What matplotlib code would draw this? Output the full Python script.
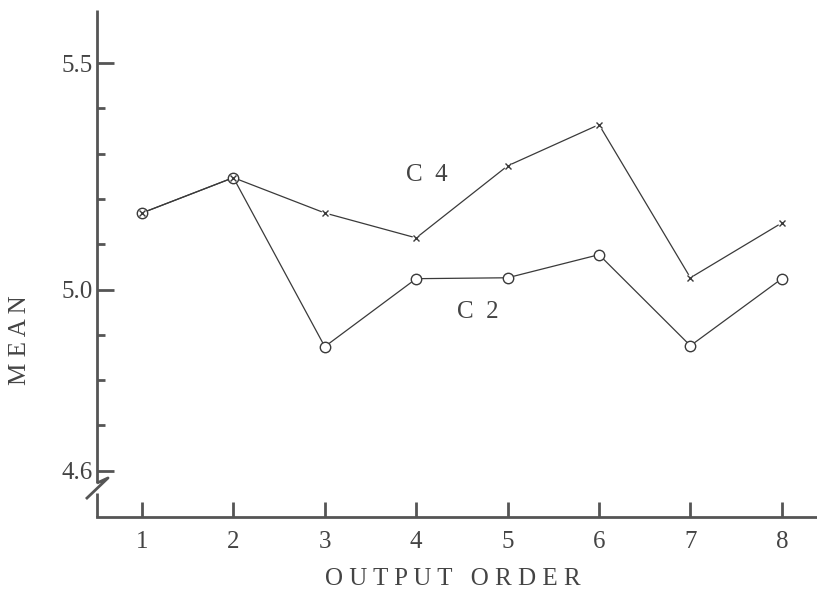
import matplotlib.pyplot as plt
import numpy as np

# Données
output_order = [1, 2, 3, 4, 5, 6, 7, 8]
mean_c4 = [5.169, 5.247, 5.169, 5.114, 5.273, 5.364, 5.026, 5.147]
mean_c2 = [5.169, 5.247, 4.874, 5.024, 5.026, 5.077, 4.876, 5.024]
y_major = [4.6, 5.0, 5.5]
y_minor = [4.7, 4.8, 4.9, 5.1, 5.2, 5.3, 5.4]

plt.rcParams['font.family'] = ['Liberation Serif', 'DejaVu Serif']
ink = '#3a3a3a'
axis_col = '#555555'
txt_col = '#444444'

fig = plt.figure(figsize=(8.17, 6), dpi=100)
ax = fig.add_axes([97/817, 1 - 517/600, 720/817, 507/600])

# Courbes
ax.plot(output_order, mean_c4, color=ink, lw=0.9, zorder=2)
ax.plot(output_order, mean_c2, color=ink, lw=0.9, zorder=2)
ax.plot(output_order, mean_c2, ls='none', marker='o', ms=7.5,
        mfc='white', mec=ink, mew=1.0, zorder=3)
ax.plot(output_order[2:], mean_c4[2:], ls='none', marker='o', ms=6,
        mfc='white', mec='none', zorder=3)
ax.plot(output_order, mean_c4, ls='none', marker='x', ms=5,
        mec=ink, mew=1.0, zorder=4)

# Étiquettes des courbes
fig.text(427/817, 1 - 175/600, 'C  4', fontsize=18, color=txt_col,
         ha='center', va='center')
fig.text(478/817, 1 - 312/600, 'C  2', fontsize=18, color=txt_col,
         ha='center', va='center')

ax.set_xlim(0.508, 8.385)
ax.set_ylim(4.498, 5.617)

# Axes
for s in ['top', 'right', 'left']:
    ax.spines[s].set_visible(False)
ax.spines['bottom'].set_linewidth(2)
ax.spines['bottom'].set_color(axis_col)

# Axe vertical avec rupture
kw = dict(transform=ax.transAxes, color=axis_col, lw=2, clip_on=False,
          solid_capstyle='butt')
ax.plot([0, 0], [0.067, 1.0], **kw)
ax.plot([0, 0], [0.0, 0.047], **kw)
ax.plot([0, 0.0153, -0.0153], [0.067, 0.077, 0.0355], **kw)

ax.set_xticks(output_order)
ax.set_xticklabels([str(i) for i in output_order])
ax.set_yticks(y_major)
ax.set_yticklabels(['4.6', '5.0', '5.5'])
ax.set_yticks(y_minor, minor=True)

ax.tick_params(axis='x', direction='in', length=11, width=2, color=axis_col,
               pad=10, labelsize=18, labelcolor=txt_col)
ax.tick_params(axis='y', which='major', direction='in', length=12, width=2,
               color=axis_col, pad=3, labelsize=18, labelcolor=txt_col)
ax.tick_params(axis='y', which='minor', direction='in', length=6, width=2,
               color=axis_col)

fig.text(453/817, 1 - 579/600, 'O U T P U T   O R D E R', fontsize=18,
         color=txt_col, ha='center', va='center')
fig.text(20/817, 1 - 340/600, 'M E A N', fontsize=18, color=txt_col,
         ha='center', va='center', rotation=90)

fig.savefig('out.png', dpi=100)
